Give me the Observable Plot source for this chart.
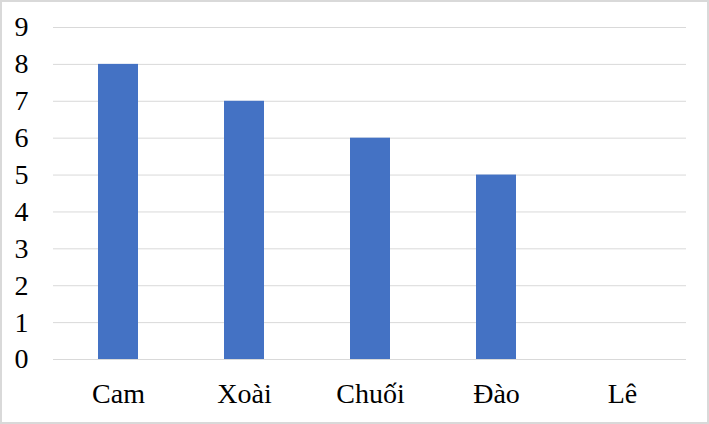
<!DOCTYPE html>
<html>
<head>
<meta charset="utf-8">
<script src="https://cdn.jsdelivr.net/npm/d3@7"></script>
<script src="https://cdn.jsdelivr.net/npm/@observablehq/plot@0.6"></script>
<style>
  html, body { margin: 0; padding: 0; background: #fff; }
  #frame { width: 709px; height: 424px; box-sizing: border-box; border: 2px solid #d9d9d9; background: #fff; overflow: hidden; }
  #frame svg { display: block; font-family: "Liberation Serif", "Times New Roman", "DejaVu Serif", serif !important; }
  #frame svg text, #frame svg g { font-family: "Liberation Serif", "Times New Roman", "DejaVu Serif", serif !important; }
</style>
</head>
<body>
<div id="frame"></div>
<script>
const categories = ["Cam", "Xoài", "Chuối", "Đào", "Lê"];
const values = [8, 7, 6, 5, 0];
const yTicks = [0, 1, 2, 3, 4, 5, 6, 7, 8, 9];

const data = categories.map((c, i) => ({category: c, value: values[i]}));

const chart = Plot.plot({
  width: 705,
  height: 420,
  marginTop: 25,
  marginBottom: 63,
  marginLeft: 51,
  marginRight: 21,
  style: {color: "#000", background: "#fff"},
  x: {domain: categories, paddingInner: 0.684, paddingOuter: 0.342, label: null},
  y: {domain: [0, 9], ticks: yTicks, label: null},
  marks: [
    Plot.gridY(yTicks, {stroke: "#d9d9d9", strokeOpacity: 1, strokeWidth: 1}),
    Plot.barY(data, {x: "category", y: "value", fill: "#4472C4"}),
    Plot.axisY(yTicks, {tickSize: 0, tickPadding: 25, fontSize: 28, label: null, fill: "#000"}),
    Plot.axisX({tickSize: 0, tickPadding: 24, fontSize: 28, label: null, fill: "#000"})
  ]
});
document.getElementById("frame").appendChild(chart);
</script>
</body>
</html>
